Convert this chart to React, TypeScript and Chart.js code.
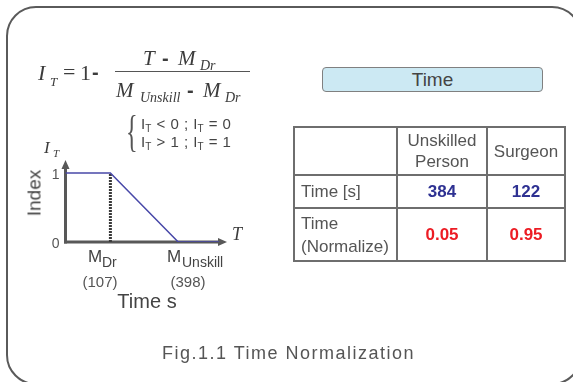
import React, { useEffect, useRef } from "react";
import { Chart, registerables, LinearScale } from "chart.js";

// ---- data ----
const timePoints = [0, 107, 398, 450];
const indexValues = [1, 1, 0, 0];
const mDrTime = 107;
const mUnskillTime = 398;
const indexTicks = [0, 1];
const subjects = ["Unskilled\nPerson", "Surgeon"];
const timeSeconds = [384, 122];
const timeNormalized = ["0.05", "0.95"];

// schematic (not-to-scale) time axis: value breakpoints and their fraction of the axis
const axisBreakValues = [0, 107, 398, 460];
const axisBreakFractions = [0, 0.278, 0.698, 1];

class PiecewiseScale extends LinearScale {
  static id = "piecewise";
  static defaults = LinearScale.defaults;
  getPixelForValue(value: number) {
    if (value === null || value === undefined) return NaN;
    const v = axisBreakValues;
    const f = axisBreakFractions;
    let d = 0;
    if (value <= v[0]) d = f[0];
    else if (value >= v[v.length - 1]) d = f[f.length - 1];
    else {
      for (let i = 0; i < v.length - 1; i++) {
        if (value >= v[i] && value <= v[i + 1]) {
          d = f[i] + ((value - v[i]) / (v[i + 1] - v[i])) * (f[i + 1] - f[i]);
          break;
        }
      }
    }
    return this.getPixelForDecimal(d);
  }
  getValueForPixel(pixel: number) {
    const d = this.getDecimalForPixel(pixel);
    const v = axisBreakValues;
    const f = axisBreakFractions;
    for (let i = 0; i < f.length - 1; i++) {
      if (d >= f[i] && d <= f[i + 1]) {
        return v[i] + ((d - f[i]) / (f[i + 1] - f[i])) * (v[i + 1] - v[i]);
      }
    }
    return d <= 0 ? v[0] : v[v.length - 1];
  }
}

Chart.register(...registerables, PiecewiseScale as any);

const SANS = '"Liberation Sans", Arial, sans-serif';
const SERIF = '"Liberation Serif", "Times New Roman", serif';

const axesPlugin = {
  id: "axesArrows",
  beforeDatasetsDraw(chart: any) {
    const { ctx, chartArea } = chart;
    const { left, right, top, bottom } = chartArea;
    const yScale = chart.scales.y;
    ctx.save();
    ctx.strokeStyle = "#585858";
    ctx.fillStyle = "#585858";
    ctx.lineWidth = 3;
    ctx.beginPath();
    ctx.moveTo(left, bottom + 1.5);
    ctx.lineTo(left, top + 6);
    ctx.stroke();
    ctx.beginPath();
    ctx.moveTo(left, top);
    ctx.lineTo(left - 4, top + 9);
    ctx.lineTo(left + 4, top + 9);
    ctx.closePath();
    ctx.fill();
    ctx.beginPath();
    ctx.moveTo(left - 1.5, bottom);
    ctx.lineTo(right - 6, bottom);
    ctx.stroke();
    ctx.beginPath();
    ctx.moveTo(right, bottom);
    ctx.lineTo(right - 9, bottom - 4);
    ctx.lineTo(right - 9, bottom + 4);
    ctx.closePath();
    ctx.fill();
    ctx.font = `14px ${SANS}`;
    ctx.fillStyle = "#555";
    ctx.textAlign = "right";
    ctx.textBaseline = "middle";
    for (const v of indexTicks) {
      ctx.fillText(String(v), left - 6, yScale.getPixelForValue(v) + 2);
    }
    ctx.restore();
  },
};

type TP = {
  x: number;
  base: number;
  size: number;
  serif?: boolean;
  italic?: boolean;
  bold?: boolean;
  center?: boolean;
  color?: string;
  style?: React.CSSProperties;
  children?: React.ReactNode;
};

function Txt({ x, base, size, serif, italic, bold, center, color, style, children }: TP) {
  return (
    <div
      style={{
        position: "absolute",
        left: x,
        top: base - 0.85 * size,
        fontSize: size,
        lineHeight: `${size}px`,
        fontFamily: serif ? SERIF : SANS,
        fontStyle: italic ? "italic" : "normal",
        fontWeight: bold ? "bold" : "normal",
        color: color || "#444",
        whiteSpace: "pre",
        transform: center ? "translateX(-50%)" : undefined,
        ...style,
      }}
    >
      {children}
    </div>
  );
}

const Sub = ({ children, size = 10, drop = 3 }: any) => (
  <span style={{ fontSize: size, position: "relative", top: drop }}>{children}</span>
);

export default function App() {
  const canvasRef = useRef<HTMLCanvasElement | null>(null);

  useEffect(() => {
    const canvas = canvasRef.current;
    if (!canvas) return;
    const chart = new Chart(canvas, {
      type: "line",
      data: {
        datasets: [
          {
            label: "Index",
            data: timePoints.map((t, i) => ({ x: t, y: indexValues[i] })),
            borderColor: "#4848a8",
            borderWidth: 1.5,
            pointRadius: 0,
            tension: 0,
          },
          {
            label: "M_Dr",
            data: [
              { x: mDrTime, y: 0 },
              { x: mDrTime, y: indexValues[1] },
            ],
            borderColor: "#3a3a3a",
            borderWidth: 3,
            borderDash: [2, 1],
            pointRadius: 0,
          },
        ],
      },
      options: {
        animation: false,
        responsive: false,
        devicePixelRatio: 1,
        layout: { padding: { left: 65.5, top: 160, right: 346, bottom: 140 } },
        plugins: { legend: { display: false }, tooltip: { enabled: false } },
        scales: {
          x: { type: "piecewise" as any, min: 0, max: 460, display: false },
          y: { type: "linear", min: 0, max: 1.19, display: false },
        },
      } as any,
      plugins: [axesPlugin],
    });
    return () => chart.destroy();
  }, []);

  const cell: React.CSSProperties = {
    border: "2px solid #6e6e6e",
    padding: 0,
    fontSize: 17,
    fontFamily: SANS,
    color: "#555",
    textAlign: "center",
    verticalAlign: "middle",
  };
  const firstCol: React.CSSProperties = { ...cell, textAlign: "left", paddingLeft: 6 };

  return (
    <div
      style={{
        position: "fixed",
        left: 0,
        top: 0,
        width: 573,
        height: 382,
        overflow: "hidden",
        background: "#fff",
        fontFamily: SANS,
      }}
    >
      <div
        style={{
          position: "absolute",
          left: 6,
          top: 6,
          width: 576,
          height: 379,
          boxSizing: "border-box",
          border: "2.5px solid #5a5a5a",
          borderRadius: 30,
        }}
      />
      <canvas
        ref={canvasRef}
        width={573}
        height={382}
        style={{ position: "absolute", left: 0, top: 0, width: 573, height: 382 }}
      />

      {/* formula */}
      <Txt x={38} base={81} size={22} serif italic color="#3c3c3c">I</Txt>
      <Txt x={50} base={86} size={13} serif italic color="#3c3c3c">T</Txt>
      <Txt x={63} base={80} size={22} serif color="#3c3c3c">=</Txt>
      <Txt x={80} base={81} size={22} serif color="#3c3c3c">1</Txt>
      <Txt x={92} base={79} size={20} bold color="#3c3c3c">-</Txt>

      <Txt x={143} base={66} size={21} serif italic color="#3c3c3c">T</Txt>
      <Txt x={162} base={65} size={20} bold color="#3c3c3c">-</Txt>
      <Txt x={178} base={66} size={21} serif italic color="#3c3c3c">M</Txt>
      <Txt x={200} base={71} size={14} serif italic color="#3c3c3c">Dr</Txt>
      <div style={{ position: "absolute", left: 115, top: 71, width: 135, height: 1.4, background: "#555" }} />
      <Txt x={116} base={98} size={21} serif italic color="#3c3c3c">M</Txt>
      <Txt x={140} base={103} size={14} serif italic color="#3c3c3c">Unskill</Txt>
      <Txt x={187} base={97} size={20} bold color="#3c3c3c">-</Txt>
      <Txt x={203} base={98} size={21} serif italic color="#3c3c3c">M</Txt>
      <Txt x={225} base={103} size={14} serif italic color="#3c3c3c">Dr</Txt>

      {/* brace conditions */}
      <div
        style={{
          position: "absolute",
          left: 126,
          top: 110,
          fontSize: 44,
          lineHeight: "44px",
          fontFamily: SERIF,
          color: "#555",
          transform: "scale(0.55, 1)",
          transformOrigin: "left top",
        }}
      >
        {"{"}
      </div>
      <Txt x={141} base={129} size={15} color="#444" style={{ wordSpacing: 1 }}>
        I<Sub>T</Sub> {"<"} 0 ; I<Sub>T</Sub> = 0
      </Txt>
      <Txt x={141} base={147} size={15} color="#444" style={{ wordSpacing: 1 }}>
        I<Sub>T</Sub> {">"} 1 ; I<Sub>T</Sub> = 1
      </Txt>

      {/* axis annotations */}
      <Txt x={44} base={153} size={17} serif italic color="#3c3c3c">I</Txt>
      <Txt x={53} base={157} size={11} serif italic color="#3c3c3c">T</Txt>
      <div
        style={{
          position: "absolute",
          left: 34,
          top: 193,
          fontSize: 19,
          lineHeight: "19px",
          fontFamily: SANS,
          color: "#444",
          whiteSpace: "pre",
          transform: "translate(-50%, -50%) rotate(-90deg)",
        }}
      >
        Index
      </div>
      <Txt x={232} base={240} size={18} serif italic color="#3c3c3c">T</Txt>

      <Txt x={88} base={262} size={17} color="#444">M</Txt>
      <Txt x={102} base={267} size={14} color="#444">Dr</Txt>
      <Txt x={100} base={287} size={15} center color="#555">{`(${mDrTime})`}</Txt>
      <Txt x={167} base={262} size={17} color="#444">M</Txt>
      <Txt x={182} base={267} size={14} color="#444">Unskill</Txt>
      <Txt x={188} base={287} size={15} center color="#555">{`(${mUnskillTime})`}</Txt>
      <Txt x={147} base={308} size={20} center color="#444">Time s</Txt>

      {/* Time button */}
      <div
        style={{
          position: "absolute",
          left: 322,
          top: 67,
          width: 221,
          height: 25,
          boxSizing: "border-box",
          border: "1px solid #808080",
          borderRadius: 4,
          background: "#cce9f3",
          color: "#444",
          fontSize: 19,
          lineHeight: "23px",
          textAlign: "center",
          fontFamily: SANS,
        }}
      >
        Time
      </div>

      {/* table */}
      <table
        style={{
          position: "absolute",
          left: 293,
          top: 126,
          width: 271,
          height: 134,
          borderCollapse: "collapse",
          tableLayout: "fixed",
        }}
      >
        <colgroup>
          <col style={{ width: 103 }} />
          <col style={{ width: 90 }} />
          <col style={{ width: 78 }} />
        </colgroup>
        <tbody>
          <tr style={{ height: 48 }}>
            <td style={cell}></td>
            {subjects.map((s) => (
              <td key={s} style={{ ...cell, lineHeight: "21px", whiteSpace: "pre" }}>
                {s}
              </td>
            ))}
          </tr>
          <tr style={{ height: 33 }}>
            <td style={firstCol}>Time [s]</td>
            {timeSeconds.map((v, i) => (
              <td key={i} style={{ ...cell, fontWeight: "bold", color: "#2e3192" }}>
                {v}
              </td>
            ))}
          </tr>
          <tr style={{ height: 53 }}>
            <td style={{ ...firstCol, lineHeight: "23px" }}>
              Time
              <br />
              (Normalize)
            </td>
            {timeNormalized.map((v, i) => (
              <td key={i} style={{ ...cell, fontWeight: "bold", color: "#ec1c24" }}>
                {v}
              </td>
            ))}
          </tr>
        </tbody>
      </table>

      {/* caption */}
      <Txt x={162} base={359} size={18} color="#555" style={{ letterSpacing: 1.5 }}>
        Fig.1.1 Time Normalization
      </Txt>
    </div>
  );
}
